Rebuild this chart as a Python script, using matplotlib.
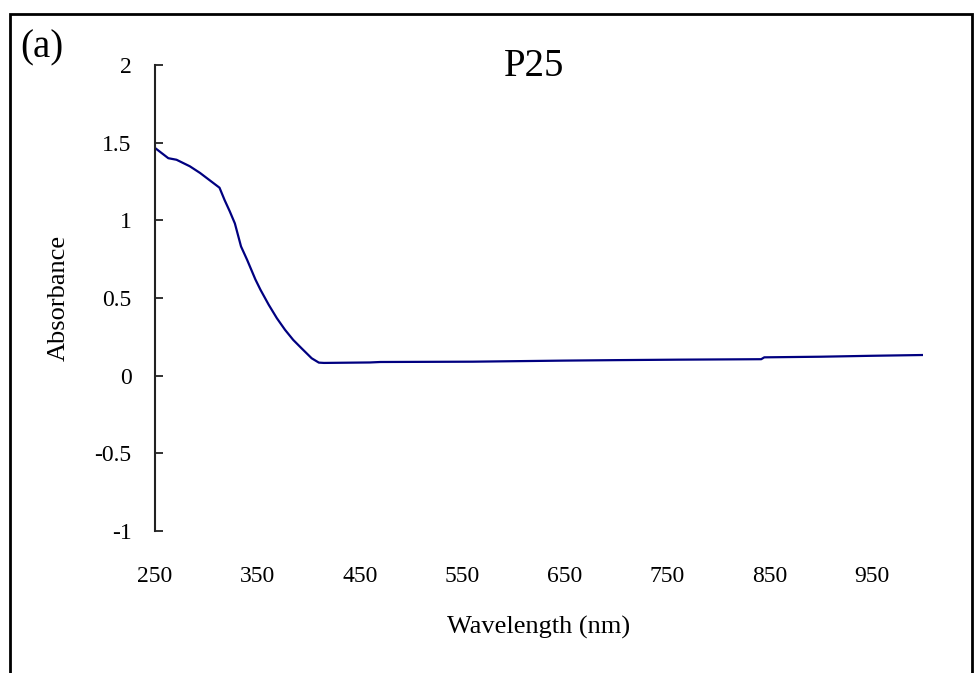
import matplotlib
matplotlib.use('Agg')
import matplotlib.pyplot as plt
from matplotlib.patches import Rectangle

plt.rcParams['font.family'] = ['Liberation Serif', 'DejaVu Serif']

# wavelength (nm) and absorbance
wavelength = [250, 263, 271, 284, 294, 305, 313, 318, 323, 328, 334, 340,
              348, 353, 361, 369, 377, 385, 393, 403, 410, 415, 460, 470,
              560, 650, 700, 760, 842, 845, 900, 950, 1000]
absorbance = [1.466, 1.40, 1.39, 1.348, 1.305, 1.25, 1.21, 1.13, 1.058, 0.98,
              0.832, 0.745, 0.62, 0.553, 0.457, 0.37, 0.295, 0.23, 0.177,
              0.112, 0.084, 0.082, 0.085, 0.088, 0.09, 0.097, 0.10, 0.103,
              0.106, 0.118, 0.122, 0.128, 0.133]
xticks = [250, 350, 450, 550, 650, 750, 850, 950]
yticks = [-1, -0.5, 0, 0.5, 1, 1.5, 2]
ytick_labels = ['-1', '-0.5', '0', '0.5', '1', '1.5', '2']

W, H = 975, 673
fig = plt.figure(figsize=(W / 100, H / 100), dpi=100)
ax = fig.add_axes([155 / W, 1 - 531 / H, (923 - 155) / W, (531 - 65) / H])

ax.plot(wavelength, absorbance, color='#000080', lw=1.6)

ax.set_xlim(250, 1000)
ax.set_ylim(-1, 2)
ax.set_xticks(xticks)
ax.set_xticklabels([str(v) for v in xticks])
ax.set_yticks(yticks)
ax.set_yticklabels(ytick_labels)

for s in ['top', 'right', 'bottom']:
    ax.spines[s].set_visible(False)
ax.spines['left'].set_linewidth(1.5)
ax.spines['left'].set_color('#222222')

ax.tick_params(axis='y', direction='in', length=5.5, width=1.3,
               labelsize=17, pad=17, color='#222222')
ax.tick_params(axis='x', length=0, labelsize=17, pad=25)

ax.set_xlabel('Wavelength (nm)', fontsize=19, labelpad=21)
ax.set_ylabel('Absorbance', fontsize=19, labelpad=18)

fig.text(534 / W, 1 - 66 / H, 'P25', fontsize=28, ha='center', va='center')
fig.text(42 / W, 1 - 48 / H, '(a)', fontsize=28, ha='center', va='center')

# outer frame (bottom edge runs off the image)
fig.patches.append(Rectangle((10 / W, -0.1), (972 - 10) / W, 1.1 - 14 / H,
                             transform=fig.transFigure, fill=False,
                             edgecolor='black', lw=2, clip_on=False))

fig.savefig('out.png', dpi=100)
